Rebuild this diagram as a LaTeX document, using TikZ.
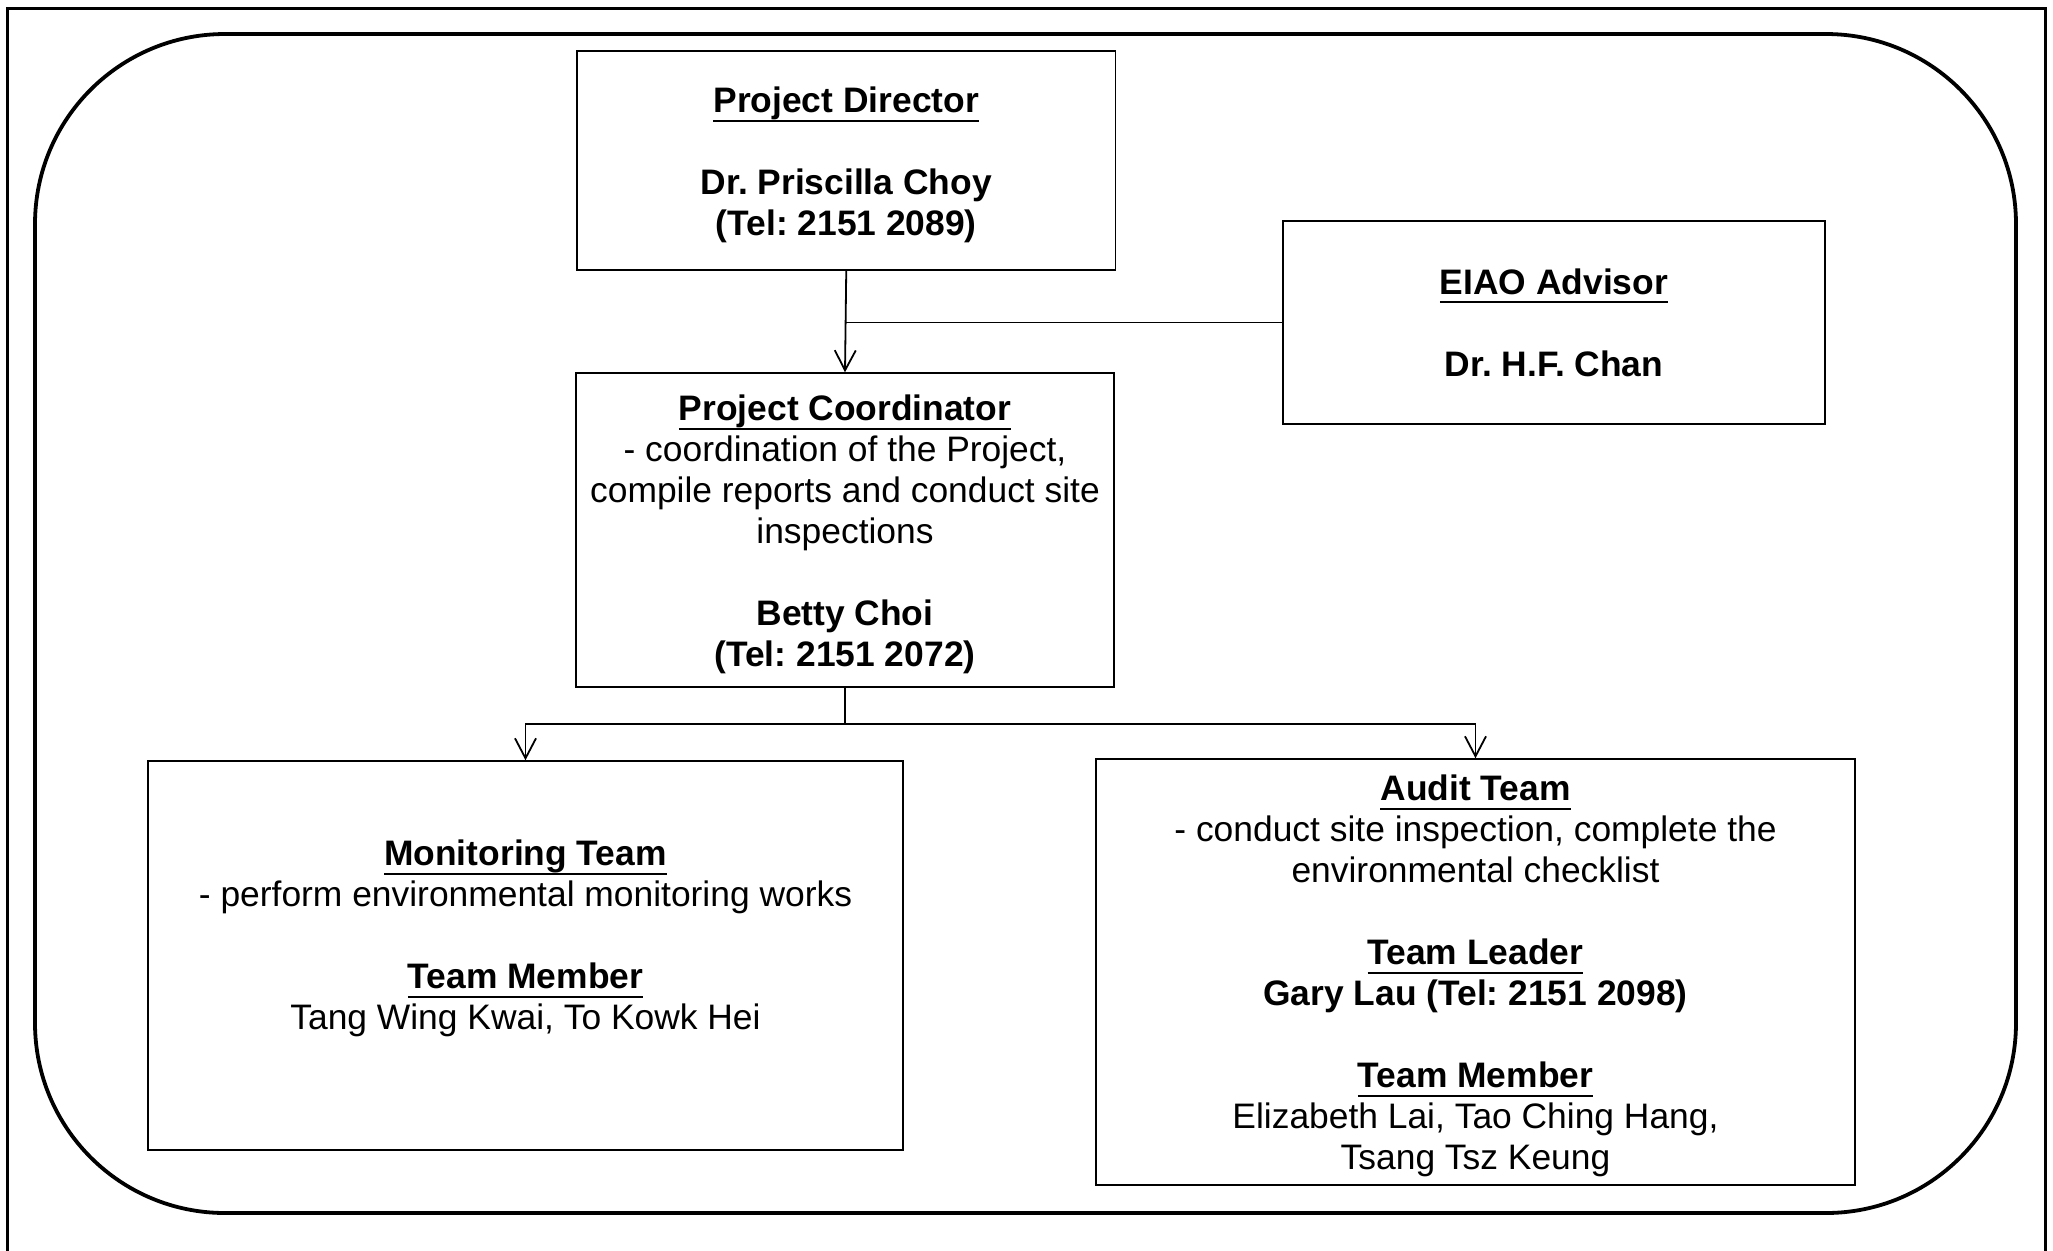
\documentclass[tikz,border=0pt]{standalone}
\usepackage{fontspec}
\setmainfont{Liberation Sans}
\usetikzlibrary{arrows.meta}
\frenchspacing

\newsavebox\ttlbox
\newcommand{\ttl}[1]{\sbox\ttlbox{\textbf{#1}}\rlap{\rule[-4.6pt]{\wd\ttlbox}{1pt}}\usebox\ttlbox}
\newcommand{\tp}{\rule{0pt}{17pt}}

\begin{document}
\begin{tikzpicture}[x=0.5pt,y=-0.5pt,
    box/.style={draw, line width=0.75pt, rectangle, align=center, inner sep=0pt,
        font=\fontsize{17.7}{20.5}\selectfont},
    arr/.style={line width=0.9pt, -{Straight Barb[length=10pt,width=10.5pt]}}]
        \useasboundingbox (0,0) rectangle (2053,1250);

        % Frames
        \draw[line width=1.5pt] (7,8) rectangle (2045,1262);
        \draw[line width=1.9pt, rounded corners=95pt] (35,34) rectangle (2016,1213);

        % Boxes
        \node[box, minimum width=269.25pt, minimum height=109.5pt] (director) at (846.25,160.5)
            {\tp\ttl{Project Director}\\ \\ \textbf{Dr. Priscilla Choy}\\ \textbf{(Tel: 2151 2089)}};
        \node[box, minimum width=271pt, minimum height=101.5pt] (eiao) at (1554,322.5)
            {\ttl{EIAO Advisor}\\ \\ \textbf{Dr. H.F. Chan}};
        \node[box, minimum width=269pt, minimum height=157pt] (coord) at (845,530)
            {\tp\ttl{Project Coordinator}\\ - coordination of the Project,\\ compile reports and conduct site\\ inspections\\ \\ \textbf{Betty Choi}\\ \textbf{(Tel: 2151 2072)}};
        \node[box, minimum width=377.5pt, minimum height=194.5pt] (monitor) at (525.5,955.5)
            {\tp\ttl{Monitoring Team}\\ - perform environmental monitoring works\\ \\ \ttl{Team Member}\\ Tang Wing Kwai, To Kowk Hei\\[4.2pt] \mbox{}};
        \node[box, minimum width=379.5pt, minimum height=213pt] (audit) at (1475.5,972)
            {\tp\ttl{Audit Team}\\ - conduct site inspection, complete the\\ environmental checklist\\ \\ \ttl{Team Leader}\\ \textbf{Gary Lau (Tel: 2151 2098)}\\ \\ \ttl{Team Member}\\ Elizabeth Lai, Tao Ching Hang,\\ Tsang Tsz Keung};

        % Connectors
        \draw[arr] (director.south) -- (coord.north);
        \draw[line width=0.9pt] (eiao.west) -- (eiao.west -| director.south);
        \draw[arr] (coord.south) -- ++(0,36) -| (monitor.north);
        \draw[arr] (coord.south) -- ++(0,36) -| (audit.north);
    \end{tikzpicture}
\end{document}
